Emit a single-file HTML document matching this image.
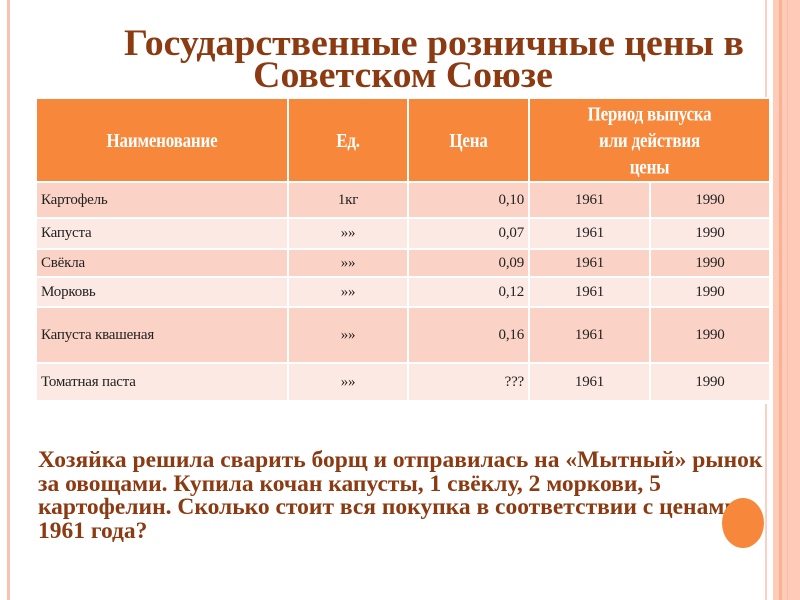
<!DOCTYPE html>
<html><head><meta charset="utf-8"><style>
body{margin:0;width:800px;height:600px;background:#fff;position:relative;overflow:hidden;font-family:"Liberation Serif",serif}
.abs{position:absolute}
table{position:absolute;left:35px;top:97px;width:734px;border-collapse:collapse;table-layout:fixed;font-size:15px;letter-spacing:-0.2px;color:#222}
td{border:2px solid #fff;padding:0 4px;}
.h td{background:#F7873A;color:#fff;font-weight:bold;text-align:center;height:82px;font-size:17px;line-height:23px}
.h span{display:inline-block;transform:scaleY(1.15)}
.d td{background:#FBD3C6}
.l td{background:#FDE9E3}
.c{text-align:center}.r{text-align:right}
.t{color:#8B3A12;font-weight:bold;white-space:nowrap}
</style></head><body>
<div class="abs" style="left:7px;top:0;width:3px;height:600px;background:#F9C2B0"></div>
<div class="abs" style="left:765px;top:0;width:2px;height:98px;background:#FAD0C2"></div>
<div class="abs" style="left:765px;top:404px;width:2px;height:196px;background:#FAD0C2"></div>
<div class="abs" style="left:773px;top:0;width:27px;height:600px;background:#FDCBB8"></div>
<div class="abs" style="left:779px;top:0;width:3px;height:600px;background:#F8B293"></div>
<div class="abs" style="left:787px;top:0;width:1px;height:600px;background:#FBBDA5"></div>
<div class="abs t" style="left:124px;top:23px;font-size:32px;line-height:34px;transform:scale(1.18,1.15);transform-origin:0 0">Государственные розничные цены в</div>
<div class="abs t" style="left:0;width:806px;top:55px;text-align:center;font-size:32px;line-height:34px;transform:scale(1.18,1.15);transform-origin:403px 0">Советском Союзе</div>
<table>
<colgroup><col style="width:252px"><col style="width:120px"><col style="width:121px"><col style="width:121px"><col style="width:120px"></colgroup>
<tr class="h"><td><span>Наименование</span></td><td><span>Ед.</span></td><td><span>Цена</span></td><td colspan="2"><span>Период выпуска<br>или действия<br>цены</span></td></tr>
<tr class="d" style="height:36px"><td>Картофель</td><td class="c">1кг</td><td class="r">0,10</td><td class="c">1961</td><td class="c">1990</td></tr>
<tr class="l" style="height:31px"><td>Капуста</td><td class="c">»»</td><td class="r">0,07</td><td class="c">1961</td><td class="c">1990</td></tr>
<tr class="d" style="height:28px"><td>Свёкла</td><td class="c">»»</td><td class="r">0,09</td><td class="c">1961</td><td class="c">1990</td></tr>
<tr class="l" style="height:30px"><td>Морковь</td><td class="c">»»</td><td class="r">0,12</td><td class="c">1961</td><td class="c">1990</td></tr>
<tr class="d" style="height:56px"><td>Капуста квашеная</td><td class="c">»»</td><td class="r">0,16</td><td class="c">1961</td><td class="c">1990</td></tr>
<tr class="l" style="height:38px"><td>Томатная паста</td><td class="c">»»</td><td class="r">???</td><td class="c">1961</td><td class="c">1990</td></tr>
</table>
<div class="abs t" style="left:38px;top:449px;font-size:23.5px;line-height:23.5px;white-space:normal;width:800px">Хозяйка решила сварить борщ и отправилась на «Мытный» рынок<br>за овощами. Купила кочан капусты, 1 свёклу, 2 моркови, 5<br>картофелин. Сколько стоит вся покупка в соответствии с ценами<br>1961 года?</div>
<div class="abs" style="left:722px;top:498px;width:42px;height:50px;border-radius:50%;background:#F7873A"></div>
</body></html>
